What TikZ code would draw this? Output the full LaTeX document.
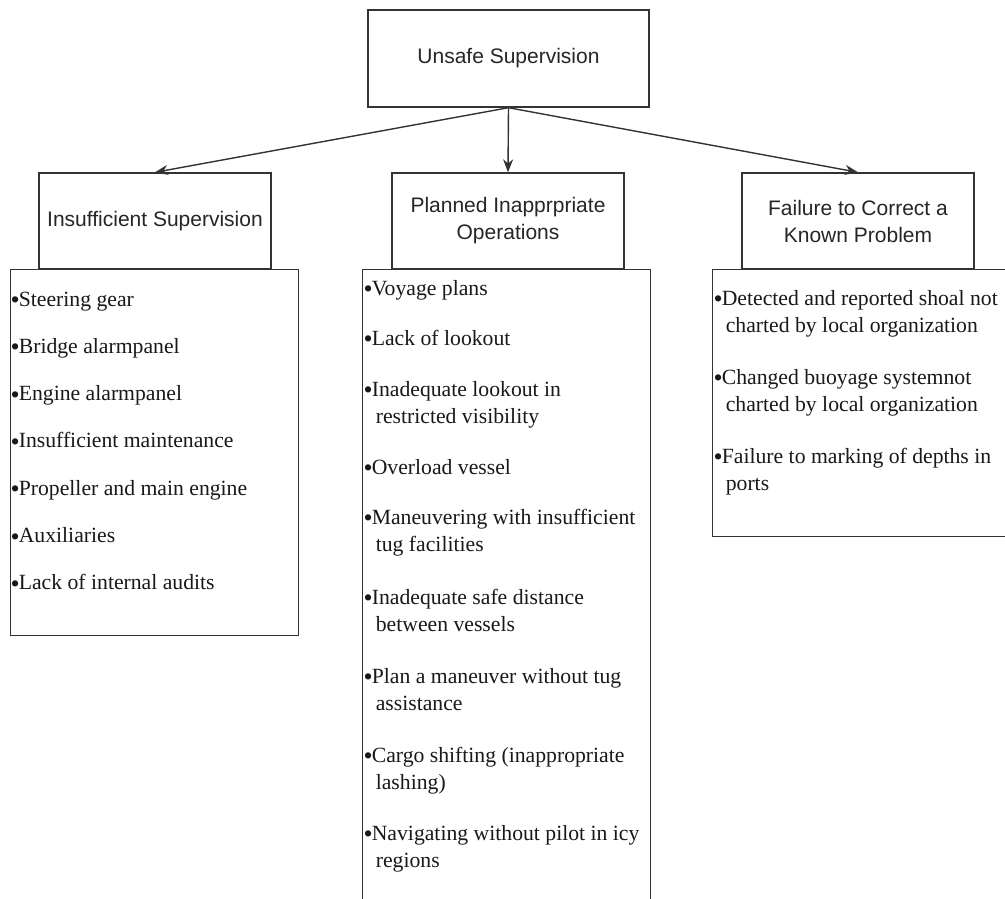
\documentclass[tikz,border=0pt]{standalone}
\usepackage{fontspec}
\setmainfont{Liberation Serif}
\newfontfamily\hdrfont{Liberation Sans}
\usetikzlibrary{arrows.meta}
\newcommand{\bulitem}[1]{\raisebox{-2.5pt}{\scalebox{1.2}{\textbullet}}\hspace{-1pt}\begin{tabular}[t]{@{}l@{}}#1\end{tabular}}
\tikzset{
  hdr/.style={draw=black!80, line width=1.4pt, fill=white, minimum width=232pt, minimum height=96pt,
    align=center, font=\hdrfont\fontsize{21}{27}\selectfont, text=black!85},
  lst/.style={draw=black!80, line width=1.4pt, anchor=north west, inner sep=0pt},
  itm/.style={anchor=base west, inner sep=0pt, font=\fontsize{21.7}{27}\selectfont, text=black!90},
  arr/.style={-{Stealth[length=13pt,width=10pt]}, line width=1.4pt, draw=black!80}
}
\begin{document}
\begin{tikzpicture}[x=1pt,y=-1pt]
\clip (0,0) rectangle (1005,899);
\fill[white] (0,0) rectangle (1005,899);
% list boxes
\node[lst, minimum width=288pt, minimum height=366pt] (insuflist) at (10,269) {};
\node[lst, minimum width=288pt, minimum height=640pt] (planlist) at (362,269) {};
\node[lst, minimum width=300pt, minimum height=267pt] (faillist) at (712,269) {};
% headers
\node[hdr, minimum width=281pt, minimum height=97pt] (unsafe) at (508.5,58.5) {Unsafe Supervision};
\node[hdr] (insuf) at (155,221) {Insufficient Supervision};
\node[hdr] (plan) at (508,221) {Planned Inapprpriate\\Operations};
\node[hdr] (fail) at (858,221) {Failure to Correct a\\Known Problem};
\draw[arr] (unsafe.south) -- (insuf.north);
\draw[arr] (unsafe.south) -- (plan.north);
\draw[arr] (unsafe.south) -- (fail.north);
% items
\foreach \t [count=\i] in {Steering gear, Bridge alarmpanel, Engine alarmpanel,
  Insufficient maintenance, Propeller and main engine, Auxiliaries, Lack of internal audits}
  \node[itm] (insuf-\i) at (10.5,{306+47.3*(\i-1)}) {\bulitem{\t}};
\foreach \y/\t [count=\i] in {295/Voyage plans, 345/Lack of lookout,
  396/{Inadequate lookout in\\\hspace{4pt}restricted visibility}, 474/Overload vessel,
  524/{Maneuvering with insufficient\\\hspace{4pt}tug facilities},
  604/{Inadequate safe distance\\\hspace{4pt}between vessels},
  683/{Plan a maneuver without tug\\\hspace{4pt}assistance},
  762/{Cargo shifting (inappropriate\\\hspace{4pt}lashing)},
  840/{Navigating without pilot in icy\\\hspace{4pt}regions}}
  \node[itm] (plan-\i) at (363.5,\y) {\bulitem{\t}};
\foreach \y/\t [count=\i] in {305/{Detected and reported shoal not\\\hspace{4pt}charted by local organization},
  384/{Changed buoyage systemnot\\\hspace{4pt}charted by local organization},
  463/{Failure to marking of depths in\\\hspace{4pt}ports}}
  \node[itm] (fail-\i) at (713.5,\y) {\bulitem{\t}};
\end{tikzpicture}
\end{document}
